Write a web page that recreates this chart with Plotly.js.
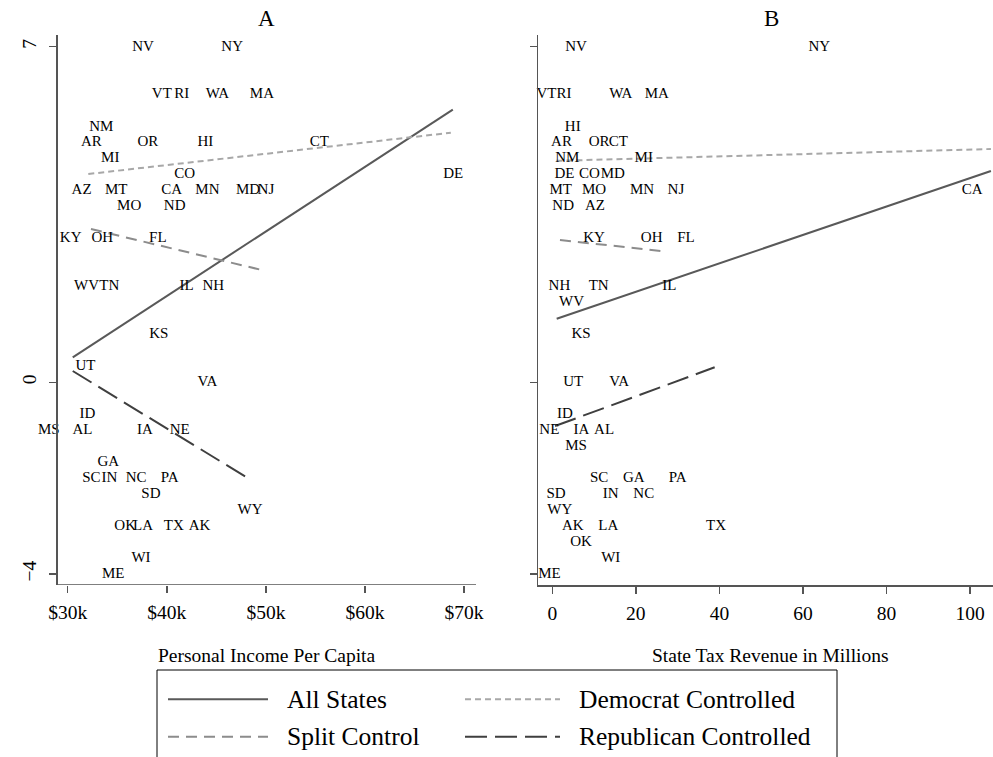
<!DOCTYPE html>
<html>
<head>
<meta charset="utf-8">
<script src="https://cdn.plot.ly/plotly-3.0.1.min.js"></script>
<style>
  html, body { margin: 0; padding: 0; background: #ffffff; }
  #chart { width: 993px; height: 757px; }
</style>
</head>
<body>
<div id="chart"></div>
<script>
// ---------- DATA ----------
const states = ["NV","NY","VT","RI","WA","MA","NM","AR","OR","HI","CT","MI","CO","DE","AZ","MT","CA","MN","MD","NJ",
  "MO","ND","KY","OH","FL","WV","TN","IL","NH","KS","UT","VA","ID","MS","AL","IA","NE","GA","SC","IN",
  "NC","PA","SD","WY","OK","LA","TX","AK","WI","ME"];

// Panel A: personal income per capita ($k) and outcome score
const incomeA = [37.6,46.6,39.5,41.5,45.1,49.6,33.4,32.4,38.1,43.9,55.4,34.3,41.8,68.9,31.4,34.9,40.5,44.1,48.2,50.0,
  36.2,40.8,30.3,33.5,39.1,31.9,34.2,42.0,44.7,39.2,31.8,44.1,32.0,28.1,31.5,37.8,41.3,34.1,32.4,34.2,
  36.9,40.3,38.4,48.4,35.8,37.6,40.7,43.3,37.4,34.6];
const scoreA = [7,7,6,6,6,6,5.33,5,5,5,5,4.67,4.33,4.33,4,4,4,4,4,4,
  3.67,3.67,3,3,3,2,2,2,2,1,0.33,0,-0.67,-1,-1,-1,-1,-1.67,-2,-2,
  -2,-2,-2.33,-2.67,-3,-3,-3,-3,-3.67,-4];

// Panel B: state tax revenue (millions) and outcome score
const taxB = [5.7,63.9,-1.4,2.8,16.4,25.0,3.6,2.2,11.2,4.9,15.8,21.9,8.9,2.9,10.2,2.0,100.5,21.5,14.5,29.6,
  10.0,2.6,10.0,23.8,32.0,4.6,11.1,28.0,1.7,6.9,5.0,16.0,3.0,5.7,12.4,7.0,-0.7,19.5,11.2,14.0,
  21.9,30.0,0.9,1.8,6.9,13.4,39.2,4.9,14.0,-0.7];
const scoreB = [7,7,6,6,6,6,4.67,5,5,5.33,5,4.67,4.33,4.33,3.67,4,4,4,4.33,4,
  4,3.67,3,3,3,1.67,2,2,2,1,0,0,-0.67,-1.33,-1,-1,-1,-2,-2,-2.33,
  -2.33,-2,-2.33,-2.67,-3.33,-3,-3,-3,-3.67,-4];

// Fitted lines (endpoints)
const fitNames = ["All States","Democrat Controlled","Split Control","Republican Controlled"];
const fitA_x = [[30.51,68.86],[32.08,68.66],[32.35,49.58],[30.51,48.33]];
const fitA_y = [[0.52,5.69],[4.345,5.207],[3.198,2.343],[0.236,-2.017]];
const fitB_x = [[1.05,105.0],[1.0,105.0],[1.84,26.15],[0.65,38.87]];
const fitB_y = [[1.327,4.408],[4.62,4.867],[2.968,2.739],[-0.912,0.313]];

// Ticks and labels
const xTicksA = [30,40,50,60,70];
const xTickTextA = ["$30k","$40k","$50k","$60k","$70k"];
const xTicksB = [0,20,40,60,80,100];
const yTicks = [-4,0,7];
const panelTitles = ["A","B"];
const axisTitles = ["Personal Income Per Capita","State Tax Revenue in Millions"];

// ---------- STYLE ----------
const FONT = 'Liberation Serif, Times New Roman, Times, serif';
const AX = '#555555';
const lineStyles = [
  {color:'#595959', width:2, dash:'solid'},
  {color:'#a8a8a8', width:2, dash:'6px,4px'},
  {color:'#8c8c8c', width:2, dash:'11px,7px'},
  {color:'#3f3f3f', width:2, dash:'22px,8px'}
];

const traces = [];
function addPanel(xs, ys, fx, fy, xa, ya) {
  for (let i = 0; i < fitNames.length; i++) {
    traces.push({
      type:'scatter', mode:'lines', x: fx[i], y: fy[i], xaxis: xa, yaxis: ya,
      name: fitNames[i], line: lineStyles[i], hoverinfo:'skip', showlegend:false, cliponaxis:true
    });
  }
  traces.push({
    type:'scatter', mode:'text', x: xs, y: ys, text: states, xaxis: xa, yaxis: ya,
    textposition:'middle center', textfont:{family:FONT, size:15, color:'#000'},
    cliponaxis:false, hoverinfo:'skip', showlegend:false
  });
}
addPanel(incomeA, scoreA, fitA_x, fitA_y, 'x', 'y');
addPanel(taxB, scoreB, fitB_x, fitB_y, 'x2', 'y2');

const W = 993, H = 757;
const px = v => v / W;
const py = v => 1 - v / H;

const Y_RANGE = [-4.228, 7.245];
const XA_RANGE = [27.6, 71.2];   // extended left so the MS label (left of the axis) is kept
const XA_LINE_START = 28.82;     // where the drawn x axis line begins
const yDom = [py(585), py(35)];
const TICKFONT = {family:FONT, size:19.5, color:'#000'};
const baseX = {
  showline:true, linecolor:AX, linewidth:1.5, ticks:'outside', ticklen:7, tickcolor:AX, tickwidth:1.5,
  showgrid:false, zeroline:false, tickfont:TICKFONT, automargin:false,
  ticklabelstandoff:3
};
const baseY = {
  showline:true, linecolor:AX, linewidth:1.5, ticks:'outside', ticklen:7, tickcolor:AX, tickwidth:1.5,
  showgrid:false, zeroline:false, tickfont:TICKFONT, automargin:false,
  tickvals: yTicks, tickangle:-90, range:Y_RANGE, domain:yDom, ticklabelstandoff:5
};

const layout = {
  width: W, height: H,
  margin:{l:0, r:0, t:0, b:0},
  paper_bgcolor:'#fff', plot_bgcolor:'rgba(0,0,0,0)',
  showlegend:false, hovermode:false,
  font:{family:FONT, color:'#000'},
  xaxis: Object.assign({}, baseX, {
    domain:[px(43.9), px(476)], range:XA_RANGE, anchor:'y', showline:false,
    tickvals:xTicksA, ticktext:xTickTextA
  }),
  yaxis: Object.assign({}, baseY, {anchor:'free', position:px(56)}),
  xaxis2: Object.assign({}, baseX, {
    domain:[px(538.3), 1], range:[-3.35, 105.5], anchor:'y2',
    tickvals:xTicksB
  }),
  yaxis2: Object.assign({}, baseY, {anchor:'x2', showticklabels:false}),
  annotations: [
    {text:panelTitles[0], xref:'paper', yref:'paper', x:px(266.5), y:py(19), xanchor:'center', yanchor:'middle',
     showarrow:false, font:{family:FONT, size:23, color:'#000'}},
    {text:panelTitles[1], xref:'paper', yref:'paper', x:px(771), y:py(19), xanchor:'center', yanchor:'middle',
     showarrow:false, font:{family:FONT, size:23, color:'#000'}},
    {text:axisTitles[0], xref:'paper', yref:'paper', x:px(266.5), y:py(655), xanchor:'center', yanchor:'middle',
     showarrow:false, font:{family:FONT, size:19.5, color:'#000'}},
    {text:axisTitles[1], xref:'paper', yref:'paper', x:px(770.5), y:py(655), xanchor:'center', yanchor:'middle',
     showarrow:false, font:{family:FONT, size:19.5, color:'#000'}}
  ],
  shapes: [
    // panel A x axis line, starting at the y axis
    {type:'line', xref:'x', yref:'y', x0:XA_LINE_START, x1:XA_RANGE[1], y0:Y_RANGE[0], y1:Y_RANGE[0],
     line:{color:AX, width:1.5}}
  ]
};

// ---------- manual legend (box, samples, labels) ----------
layout.shapes.push({type:'rect', xref:'paper', yref:'paper', x0:px(157), x1:px(837), y0:-0.05, y1:py(670),
  line:{color:'#000', width:1}, fillcolor:'rgba(0,0,0,0)'});
const legCols = [[168,268,285],[465,560,577]];
const legRows = [699.3, 736.7];
const legOrder = [[0,0,0],[1,1,0],[2,0,1],[3,1,1]]; // [series, col, row]
legOrder.forEach(([s,c,r]) => {
  const st = lineStyles[s];
  layout.shapes.push({type:'line', xref:'paper', yref:'paper',
    x0:px(legCols[c][0]), x1:px(legCols[c][1]), y0:py(legRows[r]), y1:py(legRows[r]),
    line:{color:st.color, width:st.width, dash:st.dash}});
  layout.annotations.push({text:fitNames[s], xref:'paper', yref:'paper', x:px(legCols[c][2]), y:py(legRows[r]),
    xanchor:'left', yanchor:'middle', showarrow:false, font:{family:FONT, size:25.5, color:'#000'}});
});

Plotly.newPlot('chart', traces, layout, {displayModeBar:false, staticPlot:true});
</script>
</body>
</html>
